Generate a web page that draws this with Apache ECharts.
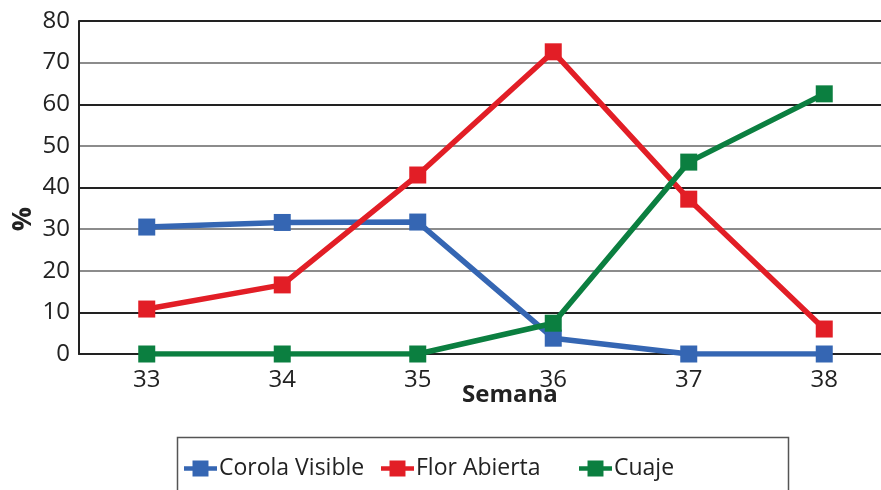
<!DOCTYPE html>
<html><head><meta charset="utf-8">
<script src="https://cdn.jsdelivr.net/npm/echarts@6/dist/echarts.min.js"></script>
<style>html,body{margin:0;padding:0;background:#fff}#c{width:881px;height:490px}</style>
</head><body><div id="c"></div>
<script>
const categories = ['33','34','35','36','37','38'];
const corolaVisible = [30.5, 31.6, 31.7, 3.8, 0, 0];
const florAbierta = [10.8, 16.6, 43, 72.6, 37.2, 6];
const cuaje = [0, 0, 0, 7.4, 46.1, 62.5];
const seriesNames = ['Corola Visible', 'Flor Abierta', 'Cuaje'];
const colors = ['#3566b3', '#e21e26', '#0b7f40'];
const font = 'Open Sans';

const chart = echarts.init(document.getElementById('c'), null, {renderer: 'canvas'});
const values = [corolaVisible, florAbierta, cuaje];
const legendLefts = [179, 376, 574];
chart.setOption({
  animation: false,
  textStyle: {fontFamily: font},
  grid: {left: 79, top: 21, height: 333, width: 813, containLabel: false, outerBoundsMode: 'none'},
  xAxis: {
    type: 'category', data: categories, boundaryGap: true,
    axisLine: {lineStyle: {color: '#222', width: 2}},
    axisTick: {show: false},
    axisLabel: {fontFamily: font, fontSize: 24, color: '#222', margin: 14}
  },
  yAxis: {
    type: 'value', min: 0, max: 80, interval: 10,
    axisLine: {show: true, lineStyle: {color: '#222', width: 2}},
    axisTick: {show: false},
    axisLabel: {fontFamily: font, fontSize: 24, color: '#222', margin: 9},
    splitLine: {lineStyle: {color: ['#222','#222','#8c8c8c','#8c8c8c','#222','#8c8c8c','#222','#8c8c8c','#222'], width: 2}}
  },
  legend: seriesNames.map((n, i) => ({
    data: [{name: n, icon: 'path://M0,5.5H31V9.5H0Z M8,0H23V15H8Z'}],
    left: legendLefts[i], top: 452, itemWidth: 33, itemHeight: 16, itemGap: 0,
    textStyle: {fontFamily: font, fontSize: 23, color: '#222', padding: [0,0,0,-3]}
  })),
  graphic: [
    {type: 'rect', shape: {x: 177.5, y: 437.5, width: 611, height: 70}, style: {fill: 'none', stroke: '#555', lineWidth: 1.5}, z: -1},
    {type: 'text', left: 462, top: 383, style: {text: 'Semana', font: 'bold 24px "Open Sans"', fill: '#222'}},
    {type: 'text', x: 23, y: 219, rotation: Math.PI / 2, style: {text: '%', font: 'bold 27px "Open Sans"', fill: '#222', align: 'center', verticalAlign: 'middle'}}
  ],
  series: seriesNames.map((n, i) => ({
    name: n, type: 'line', data: values[i],
    symbol: 'rect', symbolSize: 17,
    lineStyle: {color: colors[i], width: 5.5},
    itemStyle: {color: colors[i]},
    z: 2 + i
  }))
});
</script></body></html>
